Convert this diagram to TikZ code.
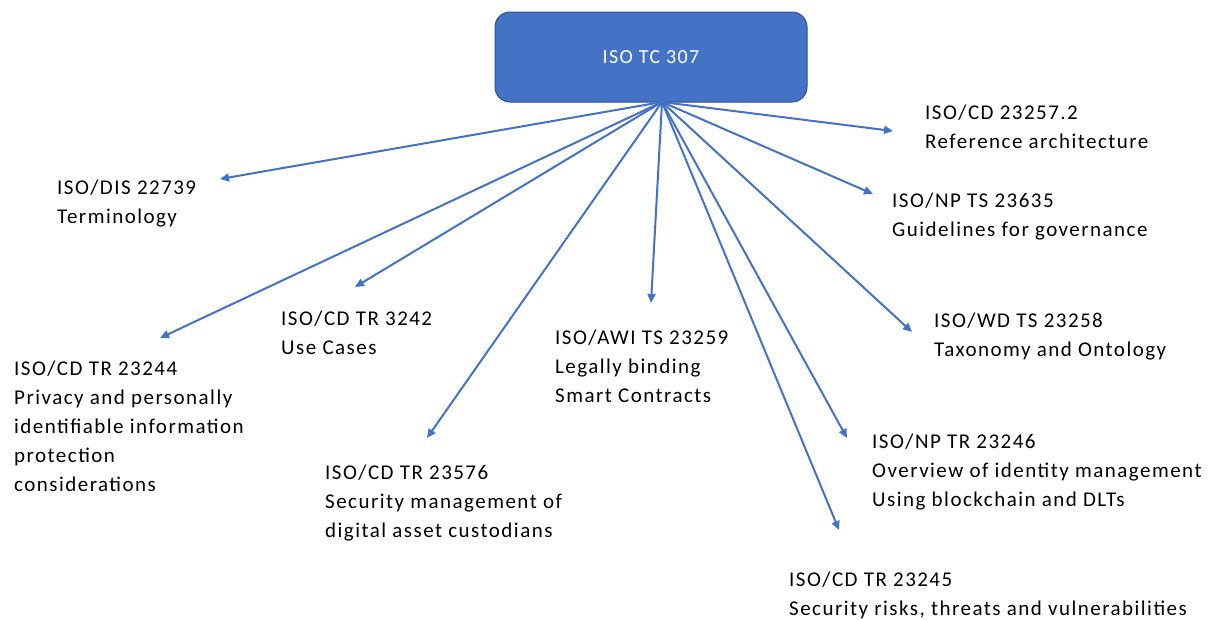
\documentclass[tikz,border=0pt]{standalone}
\usepackage{fontspec}
\setmainfont{Carlito}[LetterSpace=7]
\usetikzlibrary{arrows.meta}

\definecolor{tcblue}{RGB}{68,114,196}
\definecolor{tcedge}{RGB}{47,82,143}

\tikzset{
  label/.style={anchor=base west, align=left, inner sep=0pt,
    font=\fontsize{21}{29}\selectfont},
  link/.style={draw=tcblue, line width=2pt, -{Triangle[length=9pt,width=8pt]}}
}

\begin{document}
\begin{tikzpicture}[x=1pt,y=-1pt]%
\useasboundingbox (0,0) rectangle (1209,619);%
% committee box
\node[draw=tcedge, fill=tcblue, rounded corners=15pt, line width=1pt,
  minimum width=312pt, minimum height=90pt, text=white,
  font=\fontsize{20}{24}\selectfont] (tc) at (651,57) {ISO TC 307};%
\coordinate (hub) at (662,102);%
% work items (anchored at the baseline of their last line)
\node[label] (term) at (57,223) {ISO/DIS 22739\\Terminology};%
\node[label] (ref) at (925,148) {ISO/CD 23257.2\\Reference architecture};%
\node[label] (gov) at (892,236) {ISO/NP TS 23635\\Guidelines for governance};%
\node[label] (use) at (281,354) {ISO/CD TR 3242\\Use Cases};%
\node[label] (priv) at (14,491) {ISO/CD TR 23244\\Privacy and personally\\identifiable information\\protection\\considerations};%
\node[label] (legal) at (555,402) {ISO/AWI TS 23259\\Legally binding\\Smart Contracts};%
\node[label] (tax) at (934,356) {ISO/WD TS 23258\\Taxonomy and Ontology};%
\node[label] (ident) at (872,506) {ISO/NP TR 23246\\Overview of identity management\\Using blockchain and DLTs};%
\node[label] (cust) at (325,537) {ISO/CD TR 23576\\Security management of\\digital asset custodians};%
\node[label] (risk) at (789,615) {ISO/CD TR 23245\\Security risks, threats and vulnerabilities};%
% arrow tips
\coordinate (term-in) at (220,179);%
\coordinate (ref-in) at (893,131);%
\coordinate (gov-in) at (873,194);%
\coordinate (use-in) at (355,287);%
\coordinate (priv-in) at (160,338);%
\coordinate (legal-in) at (651,303);%
\coordinate (tax-in) at (912,332);%
\coordinate (ident-in) at (847,438);%
\coordinate (cust-in) at (427,438);%
\coordinate (risk-in) at (839,530);%
\foreach \n in {term,ref,gov,use,priv,legal,tax,ident,cust,risk}
  \draw[link] (hub) -- (\n-in);%
\end{tikzpicture}
\end{document}
